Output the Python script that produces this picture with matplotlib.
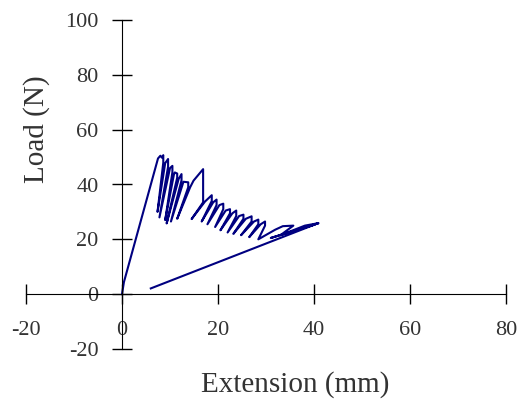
import matplotlib.pyplot as plt

# load-extension trace (mm, N)
ext = [0, 0.4, 7.5, 8.0, 8.3, 8.6,
       8.6, 7.4, 9.0, 9.6,
       9.6, 7.8, 10.0, 10.5,
       10.5, 9.0, 10.8, 11.0, 11.5,
       11.5, 9.3, 11.8, 12.4,
       12.4, 10.2, 12.8, 13.8,
       13.8, 11.5, 14.2, 14.9,
       16.9, 16.9,
       14.5, 17.3, 18.7,
       18.7, 16.6, 19.0, 19.7,
       19.7, 17.8, 20.3, 21.1,
       21.1, 19.4, 21.6, 22.5,
       22.5, 20.5, 23.0, 23.8,
       23.8, 22.0, 24.4, 25.3,
       25.3, 23.2, 25.8, 27.0,
       27.0, 24.8, 27.5, 28.4,
       28.4, 26.5, 28.9, 29.8,
       29.8, 28.4, 31.9, 33.5, 35.7,
       33.0, 38.1, 40.9,
       31.0, 39.5, 40.9, 6.0]
load = [0, 4.4, 49.5, 50.5, 49.8, 50.7,
        48.0, 30.0, 47.8, 49.3,
        46.5, 28.0, 46.0, 46.8,
        44.5, 27.0, 43.5, 44.4, 44.0,
        42.5, 25.8, 42.0, 43.8,
        41.5, 26.5, 41.0, 40.8,
        39.0, 27.5, 39.0, 41.4,
        45.6, 33.5,
        27.4, 33.8, 36.1,
        34.0, 26.5, 33.5, 34.5,
        32.5, 25.5, 32.5, 33.0,
        31.0, 24.5, 30.5, 31.0,
        29.5, 23.3, 29.5, 30.5,
        28.5, 22.5, 28.5, 29.0,
        27.5, 22.0, 27.5, 28.4,
        26.5, 21.5, 26.5, 27.2,
        25.5, 20.8, 25.5, 26.5,
        25.0, 20.0, 23.5, 24.8, 25.0,
        21.5, 25.0, 25.9,
        20.5, 25.0, 25.9, 2.1]

xticks = [-20, 0, 20, 40, 60, 80]
yticks = [-20, 0, 20, 40, 60, 80, 100]

plt.rcParams['font.family'] = 'Liberation Serif'
plt.rcParams['axes.unicode_minus'] = False
grey = '#333333'

fig = plt.figure(figsize=(5.24, 4.09), dpi=100)
ax = fig.add_axes([26 / 524, 60 / 409, 480 / 524, 329 / 409])

ax.plot(ext, load, color='#000080', lw=1.5)

ax.set_xlim(-20, 80)
ax.set_ylim(-20, 100)
ax.spines['left'].set_position(('data', 0))
ax.spines['bottom'].set_position(('data', 0))
ax.spines['right'].set_color('none')
ax.spines['top'].set_color('none')
ax.xaxis.set_ticks_position('bottom')
ax.yaxis.set_ticks_position('left')
ax.set_xticks(xticks)
ax.set_yticks(yticks)
ax.tick_params(direction='inout', length=14, width=1, labelsize=16,
               labelcolor=grey)
ax.tick_params(axis='x', pad=12)
ax.tick_params(axis='y', pad=10)

fig.text(295 / 524, 1 - 385 / 409, 'Extension (mm)', ha='center',
         va='center', fontsize=21, color=grey)
fig.text(37 / 524, 1 - 129 / 409, 'Load (N)', ha='center', va='center',
         rotation=90, fontsize=21, color=grey)

fig.savefig('out.png', dpi=100)
